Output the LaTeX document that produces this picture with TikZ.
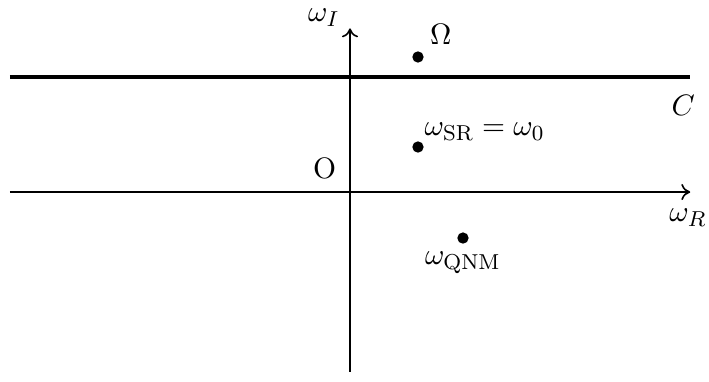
\documentclass[tikz,border=0pt,11pt]{standalone}
\usetikzlibrary{positioning,arrows.meta}
\begin{document}
\begin{tikzpicture}[
    pole/.style={circle,fill=black,inner sep=0pt,minimum size=4.2pt},
    axis/.style={semithick,-{To[length=3.3pt,width=6pt]}}
]
    \useasboundingbox (-4.557,-2.461) rectangle (4.674,2.5);
    % axes
    \coordinate (O) at (0,0);
    \coordinate (xl) at (-4.43,0);
    \coordinate (xr) at (4.43,0);
    \coordinate (yb) at (0,-2.34);
    \coordinate (yt) at (0,2.13);
    \draw[axis] (xl) -- (xr);
    \draw[axis] (yb) -- (yt);
    \node (wR) at (4.4,-0.33) {$\omega_R$};
    \node (wI) at (-0.34,2.27) {$\omega_I$};
    \node (orig) at (-0.33,0.31) {O};
    % contour
    \coordinate (cl) at (-4.43,1.5);
    \coordinate (cr) at (4.43,1.5);
    \draw[line width=1.6pt] (cl) -- (cr);
    \node (C) at (4.34,1.13) {$C$};
    % poles
    \node[pole] (Om) at (0.885,1.758) {};
    \node[pole] (SR) at (0.885,0.586) {};
    \node[pole] (QNM) at (1.471,-0.599) {};
    \node[above right=-1pt and -1pt of Om] (OmL) {$\Omega$};
    \node[above right=-3pt and -3pt of SR] (SRL) {$\omega_{\mathrm{SR}}=\omega_0$};
    \node[below=-1pt of QNM] (QNML) {$\omega_{\mathrm{QNM}}$};
\end{tikzpicture}
\end{document}
